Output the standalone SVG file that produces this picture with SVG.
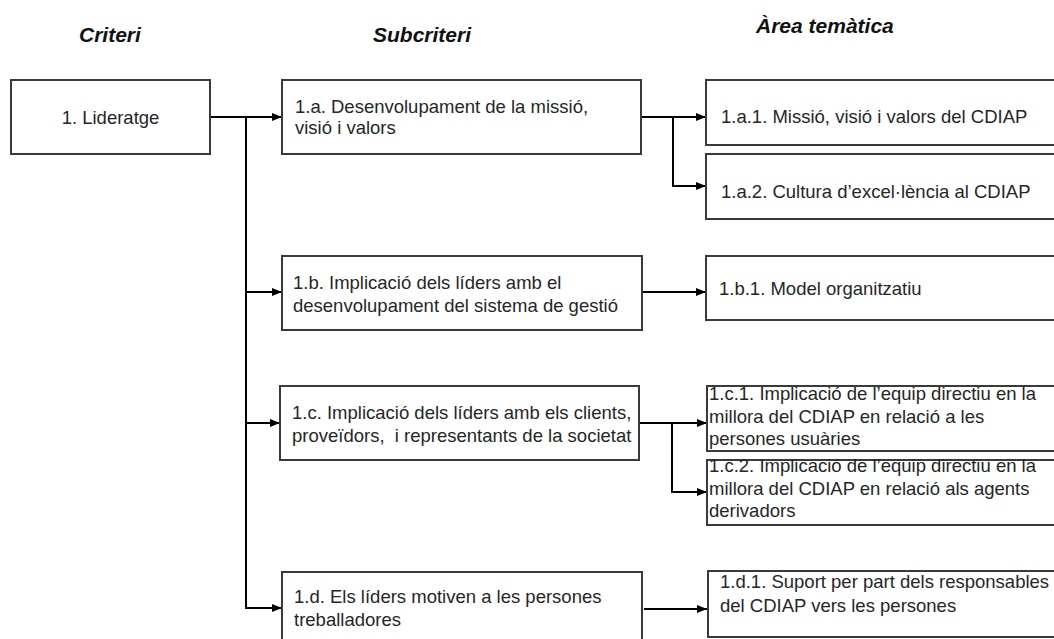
<svg xmlns="http://www.w3.org/2000/svg" width="1054" height="639" viewBox="0 0 1054 639">
<defs>
<marker id="arr" markerUnits="userSpaceOnUse" markerWidth="10" markerHeight="10" viewBox="0 0 10 10" refX="10" refY="5" orient="auto">
<path d="M0,1 L10,5 L0,9 Z" fill="#000"/>
</marker>
<style>
.box{fill:#fff;stroke:#3a3a3a;stroke-width:2}
.t{font-family:"Liberation Sans",Arial,sans-serif;font-size:18.5px;fill:#262626}
.h{font-family:"Liberation Sans",Arial,sans-serif;font-size:21px;font-weight:bold;font-style:italic;fill:#111}
.c{fill:none;stroke:#000;stroke-width:2}
</style>
</defs>
<rect width="1054" height="639" fill="#fff"/>
<g id="headers">
<text class="h" x="79" y="42">Criteri</text>
<text class="h" x="373" y="42">Subcriteri</text>
<text class="h" x="756" y="33">Àrea temàtica</text>
</g>
<g id="connectors">
<path class="c" d="M210 117 H282" marker-end="url(#arr)"/>
<path class="c" d="M246 117 V608 H282" marker-end="url(#arr)" stroke-width="2.5"/>
<path class="c" d="M246 292 H282" marker-end="url(#arr)"/>
<path class="c" d="M246 423 H280" marker-end="url(#arr)"/>
<path class="c" d="M641 117 H706" marker-end="url(#arr)"/>
<path class="c" d="M673 117 V186 H706" marker-end="url(#arr)"/>
<path class="c" d="M642 292 H706" marker-end="url(#arr)"/>
<path class="c" d="M639 423 H707" marker-end="url(#arr)"/>
<path class="c" d="M672 423 V492 H707" marker-end="url(#arr)"/>
<path class="c" d="M644 609 H707" marker-end="url(#arr)"/>
</g>
<g id="n1">
<rect class="box" x="11" y="80" width="199" height="74"/>
<text class="t" x="110.5" y="124" text-anchor="middle">1. Lideratge</text>
</g>
<g id="n1a">
<rect class="box" x="282" y="80" width="359" height="74"/>
<text class="t" x="295" y="113">1.a. Desenvolupament de la missió,</text>
<text class="t" x="295" y="134">visió i valors</text>
</g>
<g id="n1a1">
<rect class="box" x="706" y="80" width="360" height="65"/>
<text class="t" x="721" y="123">1.a.1. Missió, visió i valors del CDIAP</text>
</g>
<g id="n1a2">
<rect class="box" x="706" y="154" width="360" height="65"/>
<text class="t" x="721" y="198">1.a.2. Cultura d’excel·lència al CDIAP</text>
</g>
<g id="n1b">
<rect class="box" x="282" y="256" width="360" height="74"/>
<text class="t" x="293" y="289">1.b. Implicació dels líders amb el</text>
<text class="t" x="293" y="312">desenvolupament del sistema de gestió</text>
</g>
<g id="n1b1">
<rect class="box" x="706" y="256" width="360" height="64"/>
<text class="t" x="719" y="295">1.b.1. Model organitzatiu</text>
</g>
<g id="n1c">
<rect class="box" x="280" y="386" width="359" height="74"/>
<text class="t" x="292" y="419">1.c. Implicació dels líders amb els clients,</text>
<text class="t" x="292" y="442" xml:space="preserve">proveïdors,  i representants de la societat</text>
</g>
<g id="n1c1">
<rect class="box" x="707" y="386" width="360" height="65"/>
<text class="t" x="709" y="400">1.c.1. Implicació de l’equip directiu en la</text>
<text class="t" x="709" y="423">millora del CDIAP en relació a les</text>
<text class="t" x="709" y="445">persones usuàries</text>
</g>
<g id="n1c2">
<rect class="box" x="707" y="460" width="360" height="65"/>
<text class="t" x="709" y="472">1.c.2. Implicació de l’equip directiu en la</text>
<text class="t" x="709" y="495">millora del CDIAP en relació als agents</text>
<text class="t" x="709" y="517">derivadors</text>
</g>
<g id="n1d">
<rect class="box" x="282" y="572" width="360" height="80"/>
<text class="t" x="294" y="603">1.d. Els líders motiven a les persones</text>
<text class="t" x="294" y="626">treballadores</text>
</g>
<g id="n1d1">
<rect class="box" x="708" y="571" width="360" height="66"/>
<text class="t" x="720" y="588">1.d.1. Suport per part dels responsables</text>
<text class="t" x="720" y="612">del CDIAP vers les persones</text>
</g>
</svg>
